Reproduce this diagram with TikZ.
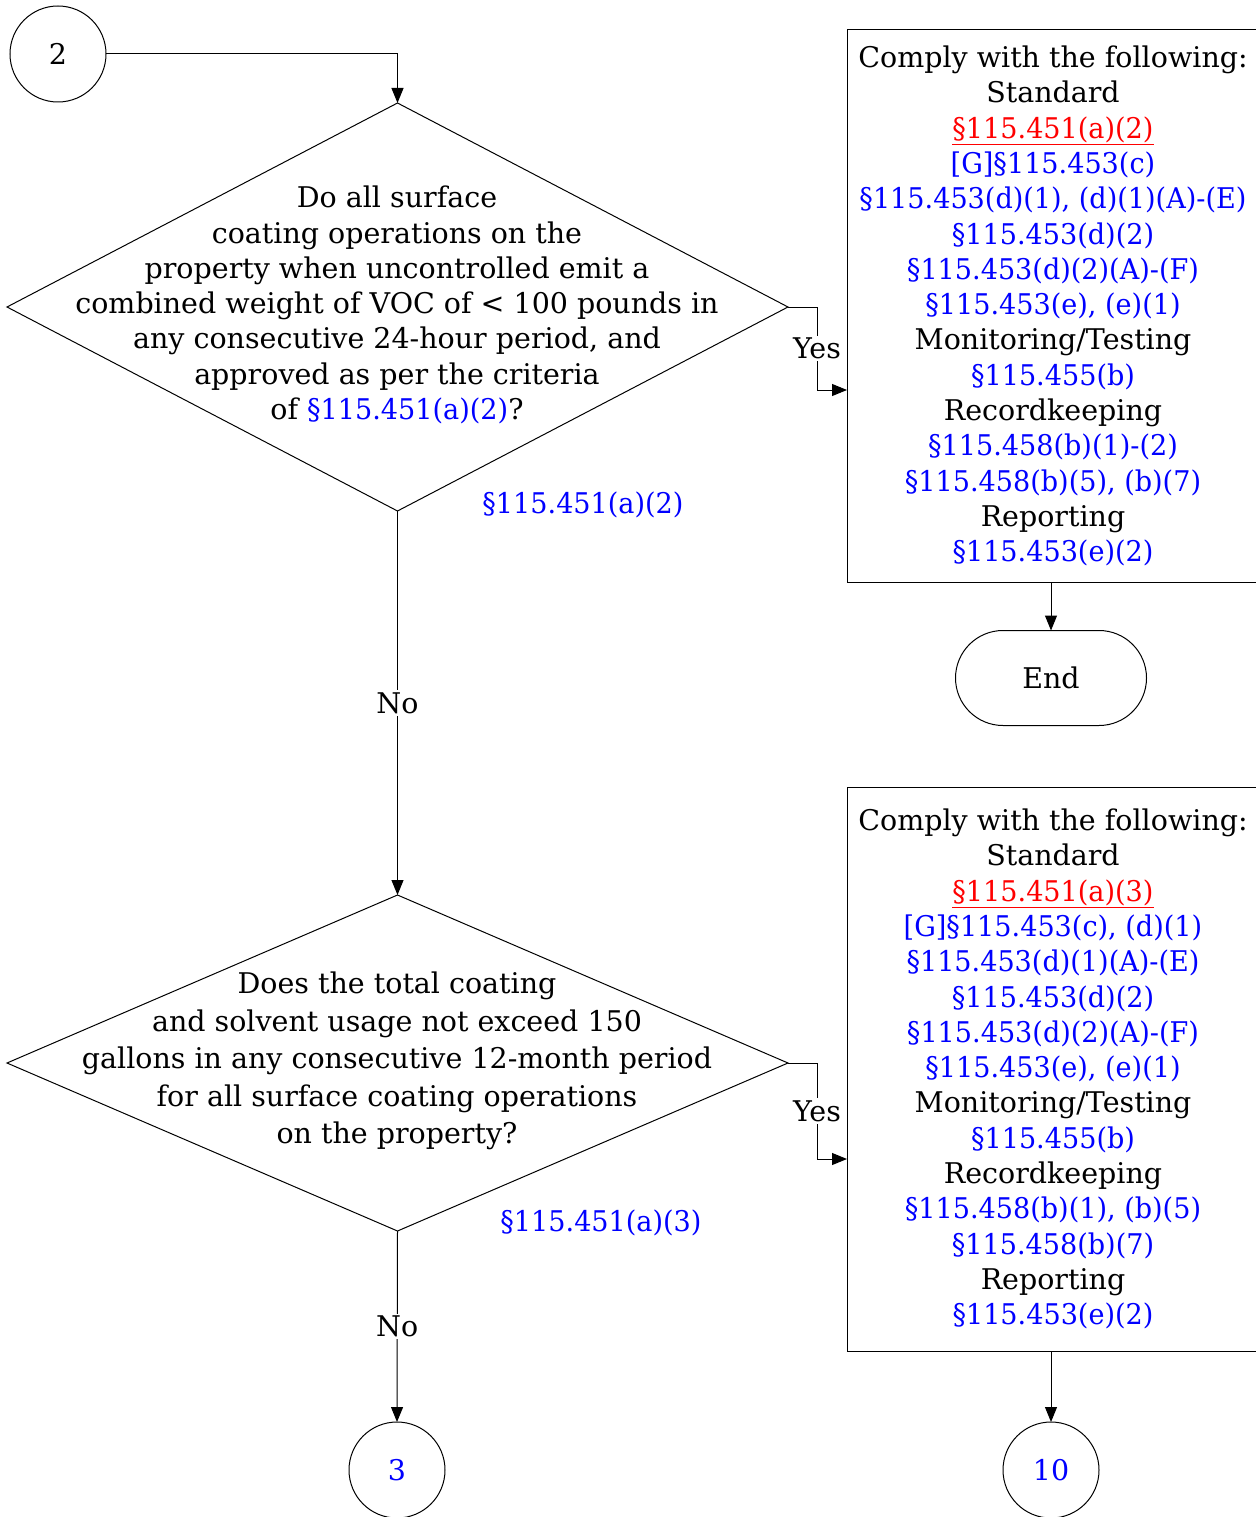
\documentclass[tikz,border=0pt]{standalone}
\usepackage{fontspec}
\setmainfont{DejaVu Serif}
\newfontfamily\citefont[FakeStretch=0.95]{DejaVu Serif}
\usetikzlibrary{shapes.geometric,arrows.meta}
\definecolor{refblue}{RGB}{0,0,255}
\definecolor{refred}{RGB}{255,0,0}
\newcommand\bluetxt[1]{\textcolor{refblue}{\citefont #1}}
\newcommand\redtxt[1]{\textcolor{refred}{\citefont\underline{#1}}}
\tikzset{
  lw/.style={line width=1pt},
  mainfont/.style={font=\fontsize{28.5}{35.3}\selectfont},
  diam/.style={diamond, draw, lw, inner sep=0pt, outer sep=0pt},
  qtext/.style={align=center, inner sep=0pt, mainfont},
  boxstyle/.style={rectangle, draw, lw, align=center, inner sep=0pt, outer sep=0pt, mainfont},
  conn/.style={circle, draw, lw, minimum size=96pt, inner sep=0pt, outer sep=0pt, mainfont},
  term/.style={rectangle, rounded corners=47.5pt, draw, lw, minimum width=191pt, minimum height=95pt, inner sep=0pt, outer sep=0pt, mainfont},
  arr/.style={lw, -{Triangle[length=15pt,width=12pt]}},
  lab/.style={fill=white, inner sep=2pt, mainfont},
  reflab/.style={inner sep=0pt, text=refblue, font=\fontsize{28.5}{35.3}\selectfont\citefont},
}
\begin{document}
\begin{tikzpicture}[x=1pt,y=-1pt]
\useasboundingbox (0,0) rectangle (1255,1517);
% connector 2
\node[conn] (c2) at (58,54) {2};
% decision 1
\node[diam, minimum width=781pt, minimum height=408pt] (d1) at (397.5,307) {};
\node[qtext] (d1t) at (397,305) {Do all surface\\
coating operations on the\\
property when uncontrolled emit a\\
combined weight of VOC of < 100 pounds in\\
any consecutive 24-hour period, and\\
approved as per the criteria\\
of \bluetxt{§115.451(a)(2)}?};
% box 1
\node[boxstyle, minimum width=412pt, minimum height=552pt] (box1) at (1053,306) {Comply with the following:\\
Standard\\
\redtxt{§115.451(a)(2)}\\
\bluetxt{[G]§115.453(c)}\\
\bluetxt{§115.453(d)(1), (d)(1)(A)-(E)}\\
\bluetxt{§115.453(d)(2)}\\
\bluetxt{§115.453(d)(2)(A)-(F)}\\
\bluetxt{§115.453(e), (e)(1)}\\
Monitoring/Testing\\
\bluetxt{§115.455(b)}\\
Recordkeeping\\
\bluetxt{§115.458(b)(1)-(2)}\\
\bluetxt{§115.458(b)(5), (b)(7)}\\
Reporting\\
\bluetxt{§115.453(e)(2)}};
\node[term] (endn) at (1051,678) {End};
\node[reflab] (r1) at (583,505) {§115.451(a)(2)};
% decision 2
\node[diam, minimum width=781pt, minimum height=336pt] (d2) at (397.5,1063) {};
\node[qtext, font=\fontsize{28.5}{37.5}\selectfont] (d2t) at (397,1061) {Does the total coating\\
and solvent usage not exceed 150\\
gallons in any consecutive 12-month period\\
for all surface coating operations\\
on the property?};
% box 2
\node[boxstyle, minimum width=412pt, minimum height=564pt] (box2) at (1053,1069) {Comply with the following:\\
Standard\\
\redtxt{§115.451(a)(3)}\\
\bluetxt{[G]§115.453(c), (d)(1)}\\
\bluetxt{§115.453(d)(1)(A)-(E)}\\
\bluetxt{§115.453(d)(2)}\\
\bluetxt{§115.453(d)(2)(A)-(F)}\\
\bluetxt{§115.453(e), (e)(1)}\\
Monitoring/Testing\\
\bluetxt{§115.455(b)}\\
Recordkeeping\\
\bluetxt{§115.458(b)(1), (b)(5)}\\
\bluetxt{§115.458(b)(7)}\\
Reporting\\
\bluetxt{§115.453(e)(2)}};
\node[reflab] (r2) at (601,1223) {§115.451(a)(3)};
\node[conn, text=refblue] (c3) at (397,1470) {3};
\node[conn, text=refblue] (c10) at (1051,1470) {10};
% connectors
\draw[arr] (c2.east) -| (d1.north);
\draw[arr] (d1.east) -- ++(29,0) -- node[lab] {Yes} ++(0,83) -- ([yshift=-84pt]box1.west);
\draw[arr] (endn.north |- box1.south) -- (endn.north);
\draw[arr] (d1.south) -- node[lab] {No} (d2.north);
\draw[arr] (d2.east) -- ++(29,0) -- node[lab] {Yes} ++(0,96) -- ([yshift=-90pt]box2.west);
\draw[arr] (d2.south) -- node[lab] {No} (c3.north);
\draw[arr] (c10.north |- box2.south) -- (c10.north);
\end{tikzpicture}
\end{document}
